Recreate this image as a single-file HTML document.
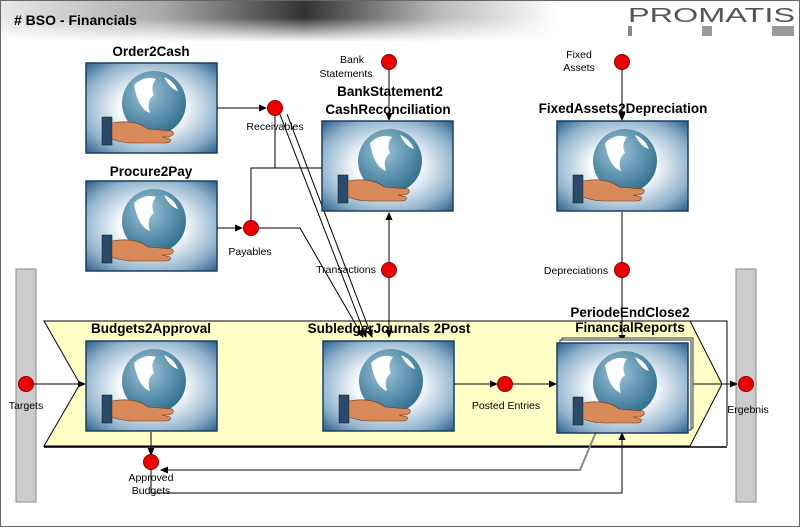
<!DOCTYPE html>
<html><head><meta charset="utf-8"><style>
body{margin:0;width:800px;height:527px;overflow:hidden;background:#fff;font-family:"Liberation Sans",sans-serif}
</style></head><body>
<svg width="800" height="527" viewBox="0 0 800 527" xmlns="http://www.w3.org/2000/svg" font-family="Liberation Sans, sans-serif">
<defs>
<linearGradient id="hdr" x1="0" x2="1" y1="0" y2="0">
<stop offset="0" stop-color="#e8e8e8"/><stop offset="0.2" stop-color="#aaa"/><stop offset="0.38" stop-color="#333"/><stop offset="0.55" stop-color="#bbb"/><stop offset="0.7" stop-color="#fff"/></linearGradient>
<linearGradient id="hdrv" x1="0" x2="0" y1="0" y2="1"><stop offset="0" stop-color="#fff" stop-opacity="0"/><stop offset="1" stop-color="#fff" stop-opacity="1"/></linearGradient>
<radialGradient id="bg" cx="0.5" cy="0.5" r="0.7"><stop offset="0.35" stop-color="#f8fbfd"/><stop offset="0.75" stop-color="#8fb2cc"/><stop offset="1" stop-color="#2e5f8a"/></radialGradient>
<radialGradient id="gl" cx="0.4" cy="0.35" r="0.7"><stop offset="0" stop-color="#9cc4d8"/><stop offset="1" stop-color="#2f6d8e"/></radialGradient>
<marker id="a" markerWidth="8" markerHeight="8" refX="7" refY="4" orient="auto" markerUnits="userSpaceOnUse"><path d="M0,0.5 L8,4 L0,7.5z" fill="#000"/></marker>
<g id="ic">
<rect x="0" y="0" width="131" height="90" fill="url(#bg)" stroke="#1d3f63" stroke-width="1.5"/>
<circle cx="68" cy="40" r="32" fill="url(#gl)"/>
<path d="M48,22 q10,-10 22,-6 q-6,8 -2,16 q-8,6 -4,18 q-12,-4 -16,-28z" fill="#fff"/>
<path d="M78,14 q10,4 14,14 q-8,-2 -14,-14z" fill="#fff"/>
<rect x="16" y="54" width="10" height="28" fill="#2a4a6a" stroke="#111" stroke-width="0.5"/>
<path d="M26,60 q24,-4 36,6 l24,2 q4,4 -4,6 l-6,0 l8,2 q2,4 -6,4 l-30,0 q-12,0 -22,-4z" fill="#d98a5a" stroke="#6a3518" stroke-width="0.6"/>
</g>
</defs>
<rect x="0.5" y="0.5" width="799" height="526" fill="#fff" stroke="#666"/>
<rect x="1" y="1" width="798" height="40" fill="url(#hdr)"/>
<rect x="1" y="18" width="798" height="24" fill="url(#hdrv)"/>
<text x="14" y="25" font-size="14" font-weight="bold">#  BSO -  Financials</text>
<text x="628" y="22" font-size="20" fill="#555" textLength="167" lengthAdjust="spacingAndGlyphs">PROMATIS</text>
<rect x="628" y="26" width="4" height="10" fill="#888"/><rect x="702" y="26" width="10" height="10" fill="#999"/><rect x="772" y="26" width="22" height="10" fill="#999"/>

<rect x="16" y="269" width="20" height="233" fill="#ccc" stroke="#888"/>
<rect x="736" y="269" width="20" height="233" fill="#ccc" stroke="#888"/>
<path d="M44,321 L727,321 L727,446" fill="none" stroke="#000"/>
<polygon points="44,321 690,321 722,384 690,446 44,446 80,384" fill="#ffffc6" stroke="#000"/>
<line x1="44" y1="447" x2="727" y2="447" stroke="#000" stroke-width="1.5"/>

<g fill="none" stroke="#000" stroke-width="1">
<line x1="217" y1="108" x2="266" y2="108" marker-end="url(#a)"/>
<line x1="217" y1="228" x2="242" y2="228" marker-end="url(#a)"/>
<polyline points="275,109 275,168"/>
<polyline points="251,228 251,168 322,168"/>
<polyline points="259,228 300,228 363,337" marker-end="url(#a)"/>
<line x1="279" y1="112" x2="366" y2="337" marker-end="url(#a)"/>
<line x1="287" y1="114" x2="372" y2="337" marker-end="url(#a)"/>
<line x1="389" y1="69" x2="389" y2="120" marker-end="url(#a)"/>
<line x1="389" y1="262" x2="389" y2="213" marker-end="url(#a)"/>
<line x1="389" y1="278" x2="389" y2="337" marker-end="url(#a)"/>
<line x1="622" y1="69" x2="622" y2="120" marker-end="url(#a)"/>
<line x1="622" y1="212" x2="622" y2="262"/>
<line x1="622" y1="278" x2="622" y2="342" marker-end="url(#a)"/>
<line x1="34" y1="384" x2="85" y2="384" marker-end="url(#a)"/>
<line x1="454" y1="384" x2="497" y2="384" marker-end="url(#a)"/>
<line x1="513" y1="384" x2="556" y2="384" marker-end="url(#a)"/>
<line x1="688" y1="384" x2="737" y2="384" marker-end="url(#a)"/>
<line x1="151" y1="432" x2="151" y2="455" marker-end="url(#a)"/>
<polyline points="596,432 580,470 161,470" stroke="#888" stroke-width="2" marker-end="url(#a)"/>
<polyline points="151,470 151,493 622,493 622,433" marker-end="url(#a)"/>
</g>

<use href="#ic" x="86" y="63"/>
<use href="#ic" x="86" y="181"/>
<use href="#ic" x="322" y="121"/>
<use href="#ic" x="557" y="121"/>
<use href="#ic" x="86" y="341"/>
<use href="#ic" x="323" y="341"/>
<rect x="562" y="338" width="131" height="90" fill="#fff" stroke="#333"/>
<rect x="560" y="340" width="131" height="90" fill="#fff" stroke="#333"/>
<use href="#ic" x="557" y="343"/>

<g fill="#e00" stroke="#800">
<circle cx="275" cy="108" r="7.5"/><circle cx="251" cy="228" r="7.5"/>
<circle cx="389" cy="62" r="7.5"/><circle cx="622" cy="62" r="7.5"/>
<circle cx="389" cy="270" r="7.5"/><circle cx="622" cy="270" r="7.5"/>
<circle cx="26" cy="384" r="7.5"/><circle cx="505" cy="384" r="7.5"/>
<circle cx="746" cy="384" r="7.5"/><circle cx="151" cy="462" r="7.5"/>
</g>

<g font-size="10.5" text-anchor="middle">
<text x="275" y="130">Receivables</text>
<text x="250" y="255">Payables</text>
<text x="352" y="63">Bank</text><text x="346" y="77">Statements</text>
<text x="579" y="58">Fixed</text><text x="579" y="71">Assets</text>
<text x="346" y="273">Transactions</text>
<text x="576" y="274">Depreciations</text>
<text x="26" y="409">Targets</text>
<text x="506" y="409">Posted Entries</text>
<text x="748" y="413">Ergebnis</text>
<text x="151" y="481">Approved</text><text x="151" y="494">Budgets</text>
</g>
<g font-size="13.5" font-weight="bold" text-anchor="middle">
<text x="151" y="56">Order2Cash</text>
<text x="151" y="176">Procure2Pay</text>
<text x="390" y="96">BankStatement2</text>
<text x="388" y="114">CashReconciliation</text>
<text x="623" y="113">FixedAssets2Depreciation</text>
<text x="151" y="333">Budgets2Approval</text>
<text x="389" y="333">SubledgerJournals 2Post</text>
<text x="630" y="317">PeriodeEndClose2</text>
<text x="630" y="332">FinancialReports</text>
</g>
</svg>
</body></html>
